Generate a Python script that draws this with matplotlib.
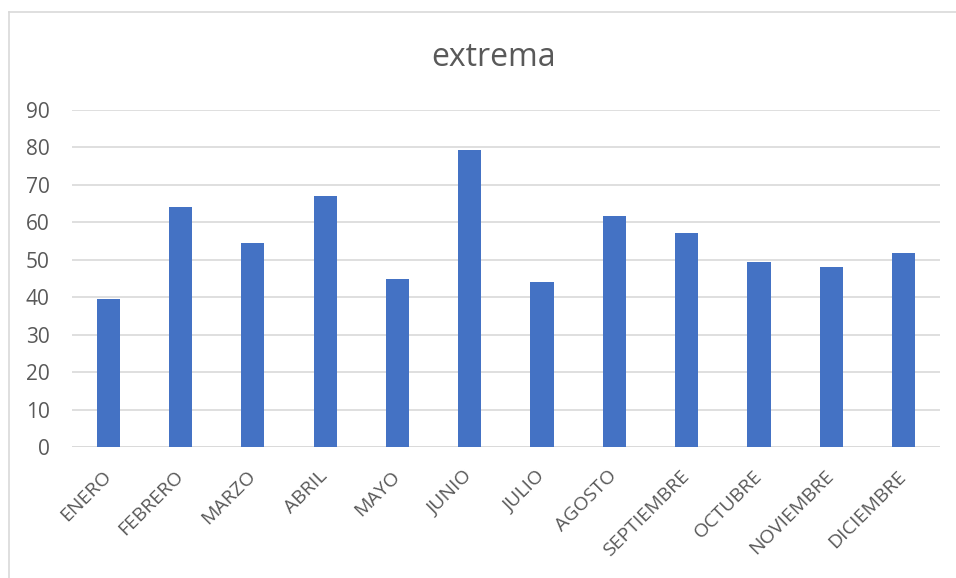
import matplotlib.pyplot as plt
from matplotlib.lines import Line2D

meses = ['ENERO', 'FEBRERO', 'MARZO', 'ABRIL', 'MAYO', 'JUNIO', 'JULIO',
         'AGOSTO', 'SEPTIEMBRE', 'OCTUBRE', 'NOVIEMBRE', 'DICIEMBRE']
extrema = [39.5, 64.1, 54.5, 67.0, 44.9, 79.3, 44.1, 61.7, 57.2, 49.4, 48.1, 51.8]
yticks = [0, 10, 20, 30, 40, 50, 60, 70, 80, 90]

plt.rcParams['font.family'] = ['Open Sans', 'DejaVu Sans']

fig = plt.figure(figsize=(9.56, 5.78), dpi=100)
ax = fig.add_axes([0.0753, 0.2266, 0.9077, 0.5831])

# marco del grafico (solo se ve el borde izquierdo y el de arriba)
fx, fy = 8.5 / 956, 1 - 11.5 / 578
fig.lines.append(Line2D([fx, fx], [0, fy], transform=fig.transFigure, color='#D9D9D9', lw=1.2))
fig.lines.append(Line2D([fx, 1], [fy, fy], transform=fig.transFigure, color='#D9D9D9', lw=1.2))

x = range(len(meses))
ax.bar(x, extrema, width=0.32, color='#4472C4', zorder=3)

ax.set_xlim(-0.5, len(meses) - 0.5)
ax.set_ylim(0, 90)
ax.set_yticks(yticks)
ax.yaxis.grid(True, color='#D9D9D9', linewidth=1.2, zorder=0)
ax.axhline(0, color='#D9D9D9', linewidth=1.2, zorder=2)
for s in ax.spines.values():
    s.set_visible(False)
ax.tick_params(axis='both', length=0, colors='#595959')
ax.tick_params(axis='y', pad=16, labelsize=15)
ax.tick_params(axis='x', pad=19, labelsize=14)
ax.set_xticks(list(x))
ax.set_xticklabels(meses, rotation=45, ha='right', va='center', rotation_mode='anchor')

fig.text(0.516, 0.9, 'extrema', ha='center', va='center', fontsize=23, color='#595959')

fig.savefig('out.png')
